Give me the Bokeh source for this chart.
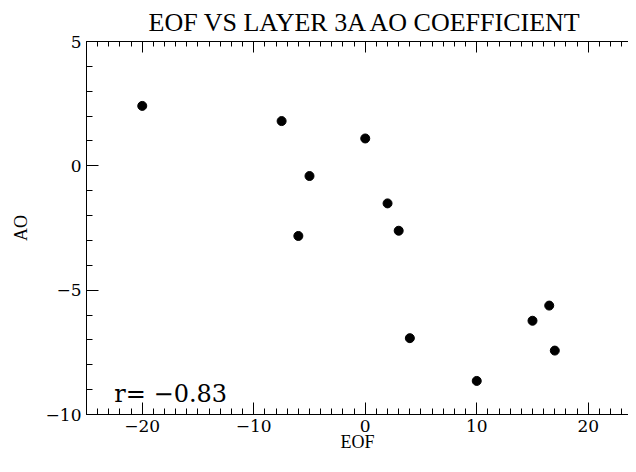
from bokeh.plotting import figure
from bokeh.models import (LinearAxis, SingleIntervalTicker, Range1d, Label,
                          CustomJSTickFormatter, ColumnDataSource)
from bokeh.embed import file_html
from bokeh.resources import INLINE

# ---- data ----
eof = [-20.0, -7.5, 0.0, -5.0, 2.0, 3.0, -6.0, 16.5, 15.0, 4.0, 17.0, 10.0]
ao = [2.41, 1.80, 1.10, -0.41, -1.51, -2.61, -2.82, -5.62, -6.23, -6.93, -7.43, -8.65]
r_text = "r= \u22120.83"
title_text = "EOF VS LAYER 3A AO COEFFICIENT"
x_label = "EOF"
y_label = "AO"

src = ColumnDataSource(dict(x=eof, y=ao))

p = figure(width=628, height=456, output_backend="svg", toolbar_location=None,
           x_range=Range1d(-25, 23.61), y_range=Range1d(-10, 5),
           min_border_left=86, min_border_right=0, min_border_top=34,
           min_border_bottom=42, title=title_text)
p.outline_line_color = None
p.grid.visible = False
p.background_fill_color = "white"
p.border_fill_color = "white"

p.title.text_font = "Liberation Serif"
p.title.text_font_size = "26px"
p.title.text_font_style = "normal"
p.title.align = "left"
p.title.offset = 62
p.title.text_color = "black"

minus_fmt = CustomJSTickFormatter(code="return String(tick).replace('-', '\\u2212');")
blank_fmt = CustomJSTickFormatter(code="return '';")

def style(ax, interval, nminor, labels=True):
    ax.ticker = SingleIntervalTicker(interval=interval, num_minor_ticks=nminor)
    ax.major_tick_in = 12
    ax.major_tick_out = 0
    ax.minor_tick_in = 6
    ax.minor_tick_out = 0
    ax.axis_line_color = "black"
    ax.major_tick_line_color = "black"
    ax.minor_tick_line_color = "black"
    ax.axis_line_width = 1
    if labels:
        ax.formatter = minus_fmt
        ax.major_label_text_font = "DejaVu Serif"
        ax.major_label_text_font_size = "17px"
        ax.major_label_text_color = "black"
        ax.axis_label_text_font = "Liberation Serif"
        ax.axis_label_text_font_size = "18px"
        ax.axis_label_text_font_style = "normal"
        ax.axis_label_text_color = "black"
    else:
        ax.formatter = blank_fmt
        ax.major_label_standoff = 0

xb = p.xaxis[0]
style(xb, 10, 10)
xb.axis_label = x_label
xb.major_label_standoff = 5
xb.axis_label_standoff = -3

yl = p.yaxis[0]
style(yl, 5, 5)
yl.axis_label = y_label
yl.major_label_standoff = 5
yl.axis_label_standoff = 12

xt = LinearAxis()
style(xt, 10, 10, labels=False)
xt.minor_tick_in = 5
xt.major_tick_in = 11
p.add_layout(xt, "above")

p.scatter("x", "y", source=src, size=9, color="black")

p.add_layout(Label(x=-22.5, y=-9.18, text=r_text, text_font="DejaVu Serif",
                   text_font_size="24px", text_color="black",
                   text_baseline="alphabetic"))

open("out.html", "w").write(file_html(p, INLINE))
